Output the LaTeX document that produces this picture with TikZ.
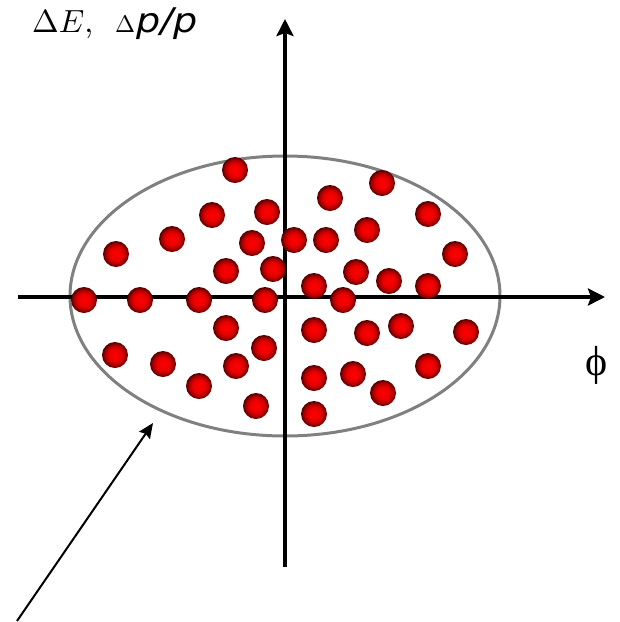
\documentclass[tikz,border=0pt]{standalone}
\usepackage{graphicx}
\usepackage{fontspec}
\newfontfamily\sansf{DejaVu Sans}
\newfontfamily\serf{Liberation Serif}
\usetikzlibrary{arrows.meta,shapes.geometric}
\pgfdeclareradialshading{redball}{\pgfpoint{0bp}{0bp}}{color(0bp)=(red!100);color(12bp)=(red!92!black);color(20bp)=(red!65!black);color(25bp)=(red!30!black);color(50bp)=(red!30!black)}
\tikzset{
  ball/.style={circle,inner sep=0pt,minimum size=26pt,shading=redball},
  axis/.style={line width=4pt,-{Stealth[length=17pt,width=17pt,inset=3pt]}},
  rim/.style={draw=black!50,line width=3pt},
  pointer/.style={line width=2pt,-{Stealth[length=15pt,width=13pt,inset=2pt]}}
}
\begin{document}
\begin{tikzpicture}[x=1pt,y=-1pt]
\useasboundingbox (0,0) rectangle (620,622);
\node[ellipse,minimum width=430pt,minimum height=280pt,rim,inner sep=0pt] (ell) at (285,296) {};
\coordinate (xs) at (18,297);
\coordinate (xe) at (605,297);
\coordinate (ys) at (285,567);
\coordinate (ye) at (285,19);
\draw[axis] (xs) -- (xe);
\draw[axis] (ys) -- (ye);
\foreach \i/\x/\y in {1/235/170,2/382/183,3/330/198,4/428/214,5/212/215,6/267/212,7/367/230,8/116/254,9/172/239,10/252/243,11/294/240,12/326/240,13/455/254,14/273/269,15/226/271,16/356/272,17/389/281,18/314/286,19/428/286,20/84/300,21/140/300,22/199/300,23/265/300,24/343/300,25/226/328,26/314/330,27/367/333,28/401/326,29/466/332,30/264/348,31/115/355,32/163/364,33/236/366,34/314/378,35/353/374,36/428/366,37/199/386,38/383/393,39/256/406,40/314/414}
  \node[ball] (b\i) at (\x,\y) {};
\node[anchor=base west,inner sep=0pt] (ylab) at (32,32) {\makebox[83pt][l]{\scalebox{3.2}{$\Delta E$,}}\scalebox{2.4}{$\Delta$}\kern1pt\scalebox{1.12}[1]{\sansf\itshape\fontsize{34}{34}\selectfont p/p}};
\node[anchor=center,inner sep=0pt,font=\fontsize{42}{42}\serf] (xlab) at (597,365) {ϕ};
\coordinate (ps) at (17,621);
\coordinate (pe) at (153,423);
\draw[pointer] (ps) -- (pe);
\end{tikzpicture}
\end{document}
